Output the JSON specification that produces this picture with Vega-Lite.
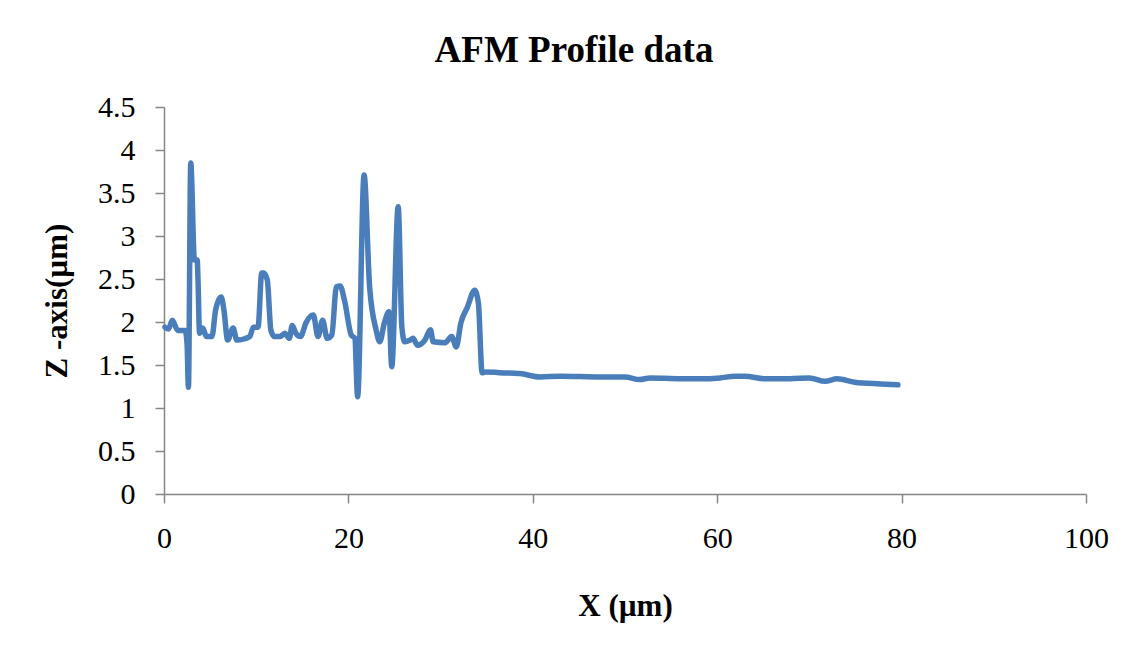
{
  "$schema": "https://vega.github.io/schema/vega-lite/v6.json",
  "width": 922,
  "height": 387,
  "autosize": "none",
  "padding": {"left": 164, "top": 107, "right": 50, "bottom": 151},
  "background": "white",
  "config": {"view": {"stroke": null}, "font": "Liberation Serif"},
  "title": {
    "text": "AFM Profile data",
    "font": "Liberation Serif",
    "fontSize": 37,
    "fontWeight": "bold",
    "color": "#000000",
    "dx": -51,
    "offset": 22
  },
  "data": {
    "values": [
      {"x": 0.1, "z": 1.94}, {"x": 0.5, "z": 1.92}, {"x": 0.9, "z": 2.02}, {"x": 1.5, "z": 1.9},
      {"x": 2.3, "z": 1.9}, {"x": 2.5, "z": 1.75}, {"x": 2.65, "z": 1.24}, {"x": 2.9, "z": 3.85},
      {"x": 3.3, "z": 2.72}, {"x": 3.6, "z": 2.72}, {"x": 3.7, "z": 2.45}, {"x": 3.85, "z": 1.87},
      {"x": 4.2, "z": 1.93}, {"x": 4.6, "z": 1.83}, {"x": 5.2, "z": 1.83}, {"x": 5.6, "z": 2.14},
      {"x": 6.2, "z": 2.29}, {"x": 6.5, "z": 2.14}, {"x": 6.9, "z": 1.79}, {"x": 7.5, "z": 1.93},
      {"x": 7.9, "z": 1.79}, {"x": 9.3, "z": 1.83}, {"x": 9.7, "z": 1.94}, {"x": 10.2, "z": 1.94},
      {"x": 10.6, "z": 2.57}, {"x": 10.8, "z": 2.57}, {"x": 11.2, "z": 2.49}, {"x": 11.6, "z": 1.9},
      {"x": 12.0, "z": 1.83}, {"x": 12.6, "z": 1.83}, {"x": 13.1, "z": 1.87}, {"x": 13.6, "z": 1.81},
      {"x": 13.9, "z": 1.96}, {"x": 14.3, "z": 1.87}, {"x": 14.8, "z": 1.83}, {"x": 15.4, "z": 1.99},
      {"x": 16.2, "z": 2.08}, {"x": 16.7, "z": 1.83}, {"x": 17.2, "z": 2.02}, {"x": 17.7, "z": 1.81},
      {"x": 18.2, "z": 1.85}, {"x": 18.7, "z": 2.41}, {"x": 19.1, "z": 2.42}, {"x": 19.6, "z": 2.24},
      {"x": 20.3, "z": 1.85}, {"x": 20.7, "z": 1.81}, {"x": 21.0, "z": 1.13}, {"x": 21.7, "z": 3.71},
      {"x": 22.3, "z": 2.41}, {"x": 23.0, "z": 1.91}, {"x": 23.4, "z": 1.77}, {"x": 23.9, "z": 1.99},
      {"x": 24.4, "z": 2.12}, {"x": 24.7, "z": 1.48}, {"x": 25.4, "z": 3.34}, {"x": 25.8, "z": 1.94},
      {"x": 26.1, "z": 1.77}, {"x": 26.7, "z": 1.79}, {"x": 27.0, "z": 1.81}, {"x": 27.5, "z": 1.73},
      {"x": 28.3, "z": 1.79}, {"x": 28.9, "z": 1.91}, {"x": 29.2, "z": 1.77}, {"x": 30.5, "z": 1.76},
      {"x": 31.2, "z": 1.83}, {"x": 31.7, "z": 1.71}, {"x": 32.2, "z": 1.99}, {"x": 32.9, "z": 2.17},
      {"x": 33.7, "z": 2.37}, {"x": 34.1, "z": 2.22}, {"x": 34.5, "z": 1.41}, {"x": 34.9, "z": 1.42},
      {"x": 36.4, "z": 1.41}, {"x": 38.6, "z": 1.4}, {"x": 40.8, "z": 1.36}, {"x": 43.0, "z": 1.37},
      {"x": 47.3, "z": 1.36}, {"x": 50.0, "z": 1.36}, {"x": 51.6, "z": 1.33}, {"x": 52.7, "z": 1.35},
      {"x": 56.0, "z": 1.34}, {"x": 58.1, "z": 1.34}, {"x": 60.3, "z": 1.35}, {"x": 61.9, "z": 1.37},
      {"x": 63.0, "z": 1.37}, {"x": 65.2, "z": 1.34}, {"x": 67.9, "z": 1.34}, {"x": 70.0, "z": 1.35},
      {"x": 71.7, "z": 1.31}, {"x": 73.0, "z": 1.34}, {"x": 74.9, "z": 1.3}, {"x": 77.7, "z": 1.28},
      {"x": 79.6, "z": 1.27}
    ]
  },
  "mark": {"type": "line", "color": "#4a7ebb", "strokeWidth": 5.5, "interpolate": "monotone", "strokeCap": "round", "strokeJoin": "round"},
  "encoding": {
    "x": {
      "field": "x",
      "type": "quantitative",
      "scale": {"domain": [0, 100], "nice": false},
      "axis": {
        "title": "X (µm)",
        "values": [0, 20, 40, 60, 80, 100],
        "format": "d",
        "grid": false,
        "labelFlush": false,
        "domainColor": "#868686",
        "tickColor": "#868686",
        "tickSize": 9,
        "domainWidth": 1.5,
        "tickWidth": 1.5,
        "labelFont": "Liberation Serif",
        "labelFontSize": 30,
        "labelColor": "#000000",
        "labelPadding": 20,
        "titleFont": "Liberation Serif",
        "titleFontSize": 31,
        "titleFontWeight": "bold",
        "titleColor": "#000000",
        "titlePadding": 38
      }
    },
    "y": {
      "field": "z",
      "type": "quantitative",
      "scale": {"domain": [0, 4.5], "nice": false},
      "axis": {
        "title": "Z -axis(µm)",
        "values": [0, 0.5, 1, 1.5, 2, 2.5, 3, 3.5, 4, 4.5],
        "format": "~g",
        "grid": false,
        "labelFlush": false,
        "domainColor": "#868686",
        "tickColor": "#868686",
        "tickSize": 9,
        "domainWidth": 1.5,
        "tickWidth": 1.5,
        "labelFont": "Liberation Serif",
        "labelFontSize": 30,
        "labelColor": "#000000",
        "labelPadding": 20,
        "titleFont": "Liberation Serif",
        "titleFontSize": 31,
        "titleFontWeight": "bold",
        "titleColor": "#000000",
        "titlePadding": 24
      }
    }
  }
}
